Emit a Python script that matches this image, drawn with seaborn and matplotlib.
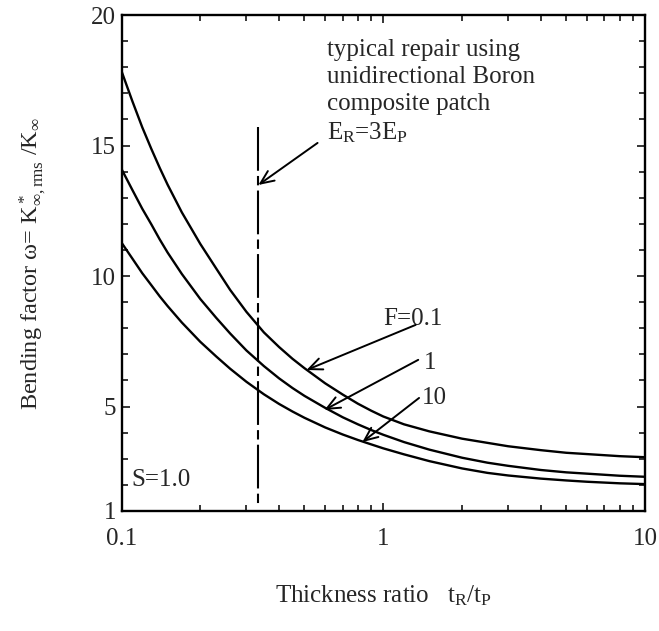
import matplotlib
matplotlib.use("Agg")
import matplotlib.pyplot as plt
import seaborn as sns
import pandas as pd
from matplotlib.ticker import FixedLocator, NullFormatter, MultipleLocator

# ---- data ----
thickness_ratio = [0.1, 0.11, 0.12, 0.13, 0.14, 0.15, 0.17, 0.2, 0.23, 0.26,
                   0.3, 0.35, 0.4, 0.45, 0.5, 0.6, 0.7, 0.8, 0.9, 1.0,
                   1.2, 1.5, 2.0, 2.5, 3.0, 4.0, 5.0, 6.0, 8.0, 10.0]
bend_F01 = [17.85, 16.7, 15.7, 14.87, 14.14, 13.5, 12.44, 11.23, 10.29, 9.47,
            8.63, 7.84, 7.28, 6.83, 6.47, 5.89, 5.46, 5.11, 4.84, 4.62,
            4.32, 4.05, 3.77, 3.61, 3.48, 3.33, 3.23, 3.18, 3.10, 3.06]
bend_F1 = [14.1, 13.3, 12.58, 11.98, 11.4, 10.9, 10.08, 9.12, 8.4, 7.8,
           7.15, 6.55, 6.08, 5.71, 5.41, 4.95, 4.59, 4.32, 4.10, 3.92,
           3.64, 3.35, 3.04, 2.85, 2.73, 2.57, 2.48, 2.43, 2.35, 2.31]
bend_F10 = [11.28, 10.67, 10.11, 9.65, 9.22, 8.85, 8.22, 7.48, 6.92, 6.45,
            5.95, 5.47, 5.10, 4.81, 4.57, 4.2, 3.93, 3.72, 3.55, 3.40,
            3.17, 2.91, 2.63, 2.46, 2.36, 2.24, 2.17, 2.12, 2.06, 2.03]
F_labels = ["F=0.1", "1", "10"]

repair_ratio = 1.0 / 3.0          # E_R = 3 E_P
repair_line_top = 15.7
repair_line_bottom = 1.2

x_ticks = [0.1, 1, 10]
x_ticklabels = ["0.1", "1", "10"]
y_ticks = [1, 5, 10, 15, 20]
y_ticklabels = ["1", "5", "10", "15", "20"]

# arrow heads on curves / tails near labels (data coords)
arrow_heads = [(0.509, 6.40), (0.596, 4.87), (0.832, 3.64)]
arrow_tails = [(1.33, 8.13), (1.36, 6.79), (1.37, 5.33)]
label_pos = [(1.0, 8.36), (1.43, 6.67), (1.41, 5.33)]

n = len(thickness_ratio)
df = pd.DataFrame({
    "t": thickness_ratio * 3,
    "w": bend_F01 + bend_F1 + bend_F10,
    "F": ["0.1"] * n + ["1"] * n + ["10"] * n,
})

sns.set_theme(style="ticks")
plt.rcParams["font.family"] = ["Liberation Serif", "DejaVu Serif"]
plt.rcParams["mathtext.fontset"] = "custom"
plt.rcParams["mathtext.rm"] = "Liberation Serif"
plt.rcParams["mathtext.it"] = "Liberation Serif:italic"
plt.rcParams["mathtext.bf"] = "Liberation Serif:bold"

fig = plt.figure(figsize=(6.59, 6.31), dpi=100)
ax = fig.add_axes([0.1844, 0.1902, 0.7944, 0.786])

sns.lineplot(data=df, x="t", y="w", hue="F", palette=["black"] * 3,
             linewidth=1.7, legend=False, ax=ax)

ax.set_xscale("log")
ax.set_xlim(0.1, 10)
ax.set_ylim(1, 20)

ax.xaxis.set_major_locator(FixedLocator(x_ticks))
ax.set_xticklabels(x_ticklabels)
ax.xaxis.set_minor_locator(FixedLocator([m * d for d in (0.1, 1) for m in range(2, 10)]))
ax.xaxis.set_minor_formatter(NullFormatter())
ax.yaxis.set_major_locator(FixedLocator(y_ticks))
ax.set_yticklabels(y_ticklabels)
ax.yaxis.set_minor_locator(MultipleLocator(1))

ax.tick_params(which="both", direction="in", top=True, right=True, width=1.1, color="black")
ax.tick_params(which="major", length=6)
ax.tick_params(which="minor", length=4)
ax.tick_params(axis="x", which="major", labelsize=18, pad=12)
ax.tick_params(axis="y", which="major", labelsize=18, pad=4)
for s in ax.spines.values():
    s.set_linewidth(1.7)
    s.set_color("black")

# vertical repair line (long dash - short dash)
ax.plot([repair_ratio, repair_ratio], [repair_line_top, repair_line_bottom],
        color="black", linewidth=1.5, linestyle=(0, (21, 2.5, 4.5, 2.5)))

ax.text(0.612, 19.1,
        "typical repair using\nunidirectional Boron\ncomposite patch\nE$_\\mathrm{R}$=3E$_\\mathrm{P}$",
        fontsize=18, va="top", ha="left", linespacing=1.3)
ax.annotate("", xy=(repair_ratio, 13.49), xytext=(0.561, 15.1),
            arrowprops=dict(arrowstyle="->,head_length=0.8,head_width=0.35",
                            color="black", lw=1.4, shrinkA=0, shrinkB=0))

for lab, (lx, ly), head, tail in zip(F_labels, label_pos, arrow_heads, arrow_tails):
    ax.text(lx, ly, lab, fontsize=18, ha="left", va="center")
    ax.annotate("", xy=head, xytext=tail,
                arrowprops=dict(arrowstyle="->,head_length=0.8,head_width=0.35",
                                color="black", lw=1.4, shrinkA=0, shrinkB=0))

ax.text(0.109, 2.2, "S=1.0", fontsize=18, ha="left", va="center")

ax.set_xlabel("Thickness ratio   t$_\\mathrm{R}$/t$_\\mathrm{P}$", fontsize=18)
ax.set_ylabel("Bending factor ω= K$^*_{\\infty,\\mathrm{rms}}$ /K$_\\infty$", fontsize=17.5)
ax.yaxis.set_label_coords(-0.14, 0.5)
ax.xaxis.set_label_coords(0.5, -0.147)

fig.savefig("out.png", dpi=100)
